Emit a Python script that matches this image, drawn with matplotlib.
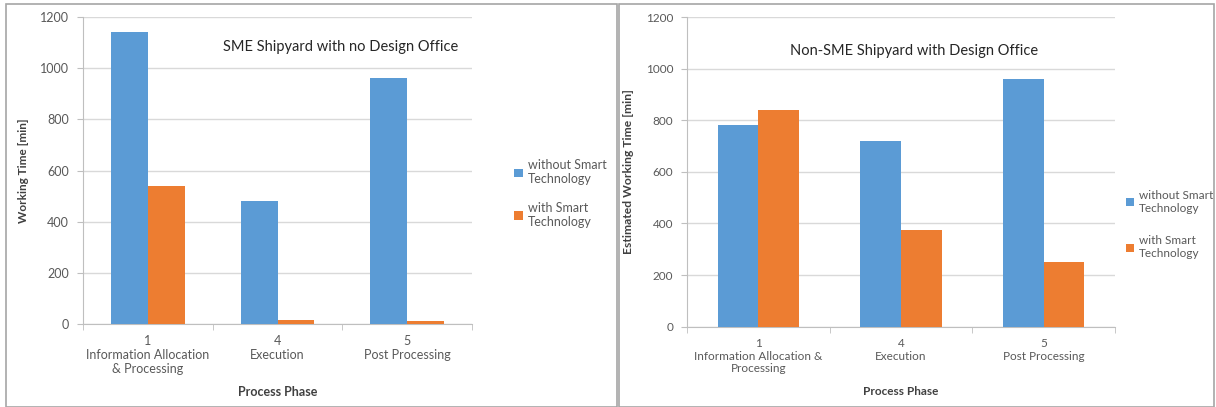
import matplotlib.pyplot as plt
import numpy as np
from matplotlib.patches import Rectangle

plt.rcParams['font.family'] = ['Lato', 'DejaVu Sans']

phases = ['1\nInformation Allocation\n& Processing', '4\nExecution', '5\nPost Processing']
phases_r = ['1\nInformation Allocation &\nProcessing', '4\nExecution', '5\nPost Processing']
sme_without = [1140, 480, 960]
sme_with = [540, 15, 10]
non_without = [780, 720, 960]
non_with = [840, 375, 250]

blue = '#5b9bd5'
orange = '#ed7d31'
grey = '#595959'

fig = plt.figure(figsize=(12.16, 4.07), dpi=100)

# panel frames
fig.patches.append(Rectangle((6/1216, 0), (617-6)/1216, 1-4/407, transform=fig.transFigure,
                             fill=False, edgecolor='#a6a6a6', linewidth=1.2))
fig.patches.append(Rectangle((619/1216, 0), (1214-619)/1216, 1-4/407, transform=fig.transFigure,
                             fill=False, edgecolor='#a6a6a6', linewidth=1.2))

def draw(ax, without, with_, labels, title, ylabel, title_pos, leg_pos, fs, yfs, legsp):
    x = np.arange(len(without))
    w = 0.285
    ax.bar(x - w/2, without, w, color=blue, label='without Smart\nTechnology', zorder=3)
    ax.bar(x + w/2, with_, w, color=orange, label='with Smart\nTechnology', zorder=3)
    ax.set_xlim(-0.5, 2.5)
    ax.set_ylim(0, 1200)
    ax.set_yticks(range(0, 1201, 200))
    ax.yaxis.grid(True, color='#d9d9d9', linewidth=1, zorder=0)
    ax.set_xticks(x)
    ax.set_xticklabels(labels, fontsize=fs, color=grey, linespacing=1.2)
    ax.set_xticks([-0.5, 0.5, 1.5, 2.5], minor=True)
    ax.tick_params(axis='x', which='major', length=0, pad=8)
    ax.tick_params(axis='x', which='minor', length=4, color='#bfbfbf', direction='out')
    ax.tick_params(axis='y', length=4, color='#bfbfbf', labelsize=fs, labelcolor=grey, pad=6)
    for s in ['top', 'right']:
        ax.spines[s].set_visible(False)
    for s in ['left', 'bottom']:
        ax.spines[s].set_color('#bfbfbf')
    ax.set_xlabel('Process Phase', fontsize=fs, fontweight='bold', color='#404040', labelpad=8)
    ax.set_ylabel(ylabel, fontsize=yfs, fontweight='bold', color='#404040', labelpad=8)
    ax.text(title_pos[0], title_pos[1], title, fontsize=10.5, color='#262626',
            ha='center', va='center')
    ax.legend(loc='center left', bbox_to_anchor=leg_pos, frameon=False, fontsize=fs,
              handlelength=0.7, handleheight=0.7, handletextpad=0.4, labelspacing=legsp,
              labelcolor=grey)

ax1 = fig.add_axes([83/1216, 1-324/407, 389/1216, 307/407])
draw(ax1, sme_without, sme_with, phases, 'SME Shipyard with no Design Office',
     'Working Time [min]', (1.49, 1082), (1.08, 0.425), 9, 8.5, 1.3)

ax2 = fig.add_axes([687/1216, 1-326.7/407, 428/1216, 309.7/407])
draw(ax2, non_without, non_with, phases_r, 'Non-SME Shipyard with Design Office',
     'Estimated Working Time [min]', (1.09, 1070), (1.0, 0.33), 8.5, 8.7, 1.85)

fig.savefig('out.png', dpi=100)
